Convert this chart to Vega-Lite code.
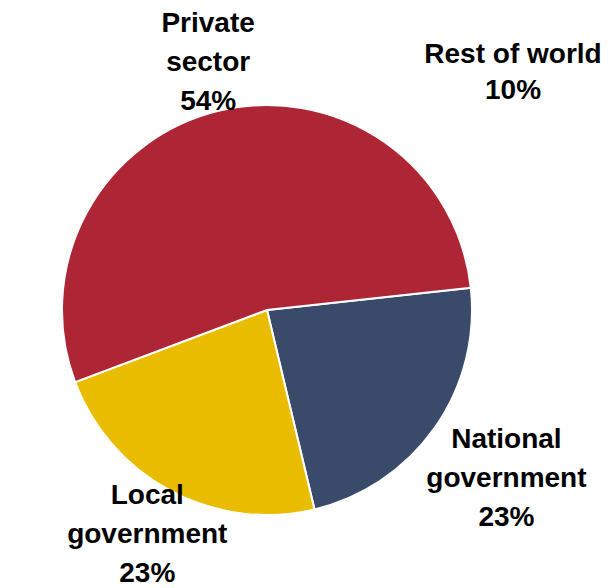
{
  "$schema": "https://vega.github.io/schema/vega-lite/v6.json",
  "width": 410,
  "height": 410,
  "autosize": {"type": "none"},
  "padding": {"left": 62, "top": 105, "right": 144, "bottom": 73},
  "background": "white",
  "config": {"view": {"stroke": null}},
  "title": {
    "text": ["Rest of world", "10%"],
    "anchor": "end",
    "frame": "group",
    "align": "center",
    "dx": 41,
    "dy": 136,
    "offset": 3,
    "font": "Liberation Sans",
    "fontSize": 28,
    "fontWeight": "bold",
    "lineHeight": 36,
    "color": "black"
  },
  "data": {
    "values": [
      {"sector": "National government", "share": 23, "label": "National\ngovernment\n23%", "rank": 1},
      {"sector": "Local government", "share": 23, "label": "Local\ngovernment\n23%", "rank": 2},
      {"sector": "Private sector", "share": 54, "label": "Private\nsector\n54%", "rank": 3}
    ]
  },
  "encoding": {
    "theta": {"field": "share", "type": "quantitative", "stack": true, "scale": {"range": [1.4626, 7.7458]}},
    "order": {"field": "rank", "type": "quantitative", "sort": "ascending"}
  },
  "layer": [
    {
      "mark": {"type": "arc", "outerRadius": 205, "stroke": "white", "strokeWidth": 2},
      "encoding": {
        "color": {
          "field": "sector",
          "type": "nominal",
          "scale": {
            "domain": ["Private sector", "National government", "Local government"],
            "range": ["#AE2535", "#3A4A6B", "#E9BC00"]
          },
          "legend": null
        }
      }
    },
    {
      "mark": {
        "type": "text", "radius": 254, "dy": -39,
        "font": "Liberation Sans", "fontSize": 28, "fontWeight": "bold",
        "lineBreak": "\n", "lineHeight": 39, "align": "center", "baseline": "middle", "color": "black"
      },
      "encoding": {
        "text": {"condition": {"test": "datum.sector === 'Private sector'", "field": "label"}, "value": ""}
      }
    },
    {
      "mark": {
        "type": "text", "radius": 293, "dy": -39,
        "font": "Liberation Sans", "fontSize": 28, "fontWeight": "bold",
        "lineBreak": "\n", "lineHeight": 39, "align": "center", "baseline": "middle", "color": "black"
      },
      "encoding": {
        "text": {"condition": {"test": "datum.sector === 'National government'", "field": "label"}, "value": ""}
      }
    },
    {
      "mark": {
        "type": "text", "radius": 255, "dy": -39,
        "font": "Liberation Sans", "fontSize": 28, "fontWeight": "bold",
        "lineBreak": "\n", "lineHeight": 39, "align": "center", "baseline": "middle", "color": "black"
      },
      "encoding": {
        "text": {"condition": {"test": "datum.sector === 'Local government'", "field": "label"}, "value": ""}
      }
    }
  ]
}
